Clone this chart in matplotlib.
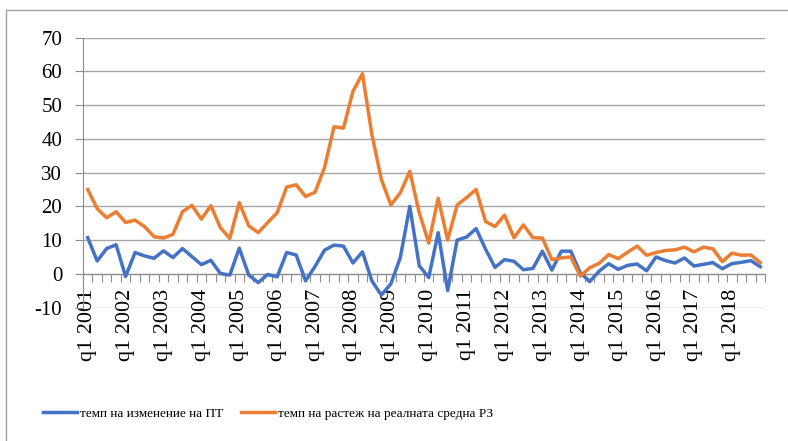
import numpy as np
import matplotlib.pyplot as plt
from matplotlib.lines import Line2D

years = list(range(2001, 2019))
quarters = ['q1', 'q2', 'q3', 'q4']
labels = [q + ' ' + str(y) for y in years for q in quarters]

# темп на изменение на ПТ
pt_growth = [10.7, 3.8, 7.5, 8.6, -0.8, 6.3, 5.3, 4.6,
             6.8, 4.8, 7.5, 5.1, 2.7, 4.0, 0.1, -0.4,
             7.6, -0.4, -2.6, -0.2, -0.9, 6.3, 5.6, -2.1,
             2.2, 7.0, 8.5, 8.2, 3.2, 6.5, -2.1, -6.3,
             -3.0, 4.8, 20.0, 2.4, -1.1, 12.2, -5.0, 10.0,
             10.9, 13.4, 7.3, 1.9, 4.2, 3.7, 1.2, 1.6,
             6.7, 1.1, 6.7, 6.7, 0.3, -2.3, 0.8, 3.0,
             1.3, 2.5, 2.9, 0.9, 5.0, 3.9, 3.2, 4.7,
             2.3, 2.8, 3.3, 1.5, 3.0, 3.4, 3.9, 2.1]

# темп на растеж на реалната средна РЗ
wage_growth = [25.0, 19.3, 16.6, 18.4, 15.2, 15.9, 14.0, 11.0,
               10.6, 11.7, 18.4, 20.3, 16.2, 20.2, 13.7, 10.5,
               21.1, 14.2, 12.2, 15.2, 18.1, 25.7, 26.4, 22.9,
               24.2, 31.5, 43.6, 43.2, 54.1, 59.3, 41.3, 28.0,
               20.4, 24.0, 30.4, 18.1, 9.1, 22.4, 10.0, 20.4,
               22.6, 25.0, 15.5, 14.0, 17.4, 10.7, 14.5, 10.7,
               10.6, 4.2, 4.7, 5.0, -0.7, 1.8, 3.1, 5.7,
               4.5, 6.4, 8.2, 5.5, 6.3, 6.9, 7.1, 7.9,
               6.5, 7.9, 7.4, 3.6, 6.1, 5.5, 5.6, 3.3]

plt.rcParams['font.family'] = ['Liberation Serif', 'DejaVu Serif']
plt.rcParams['axes.unicode_minus'] = False

fig = plt.figure(figsize=(7.88, 4.41), dpi=100)
ax = fig.add_axes([0.1053, 0.3027, 0.8655, 0.6118])

x = np.arange(len(labels))
ax.plot(x, pt_growth, color='#4472C4', lw=2.5, label='темп на изменение на ПТ', zorder=3)
ax.plot(x, wage_growth, color='#ED7D31', lw=2.5, label='темп на растеж на реалната средна РЗ', zorder=3)

ax.set_xlim(-0.5, len(labels) - 0.5)
ax.set_ylim(-10, 70)
ax.set_yticks(range(-10, 71, 10))
ax.yaxis.grid(True, color='#a6a6a6', lw=1.0)
ax.set_axisbelow(True)

gray = '#8c8c8c'
for s in ['top', 'right']:
    ax.spines[s].set_visible(False)
ax.spines['left'].set_color(gray)
ax.spines['bottom'].set_color(gray)
ax.spines['bottom'].set_position(('data', 0))

ax.tick_params(axis='y', length=6, color=gray, labelsize=15, pad=9)

# tick marks between categories, labels every 4th quarter
ax.set_xticks(np.arange(-0.5, len(labels), 1.0))
ax.set_xticklabels([])
ax.tick_params(axis='x', which='major', length=6, color=gray, direction='out')
ax.set_xticks(x[::4], minor=True)
ax.set_xticklabels(labels[::4], minor=True, rotation=90, fontsize=16)
ax.tick_params(axis='x', which='minor', length=0, pad=11)

leg = fig.legend(loc='center', bbox_to_anchor=(0.34, 0.062), ncol=2, frameon=False,
                 fontsize=9.5, handlelength=2.6, handletextpad=0.2, columnspacing=1.4)

# chart area border
fig.add_artist(Line2D([6 / 788, 6 / 788], [0, 1 - 10 / 441], color='#a0a0a0', lw=1,
                      transform=fig.transFigure))
fig.add_artist(Line2D([6 / 788, 1], [1 - 10 / 441, 1 - 10 / 441], color='#a0a0a0', lw=1,
                      transform=fig.transFigure))

fig.savefig('out.png', dpi=100)
